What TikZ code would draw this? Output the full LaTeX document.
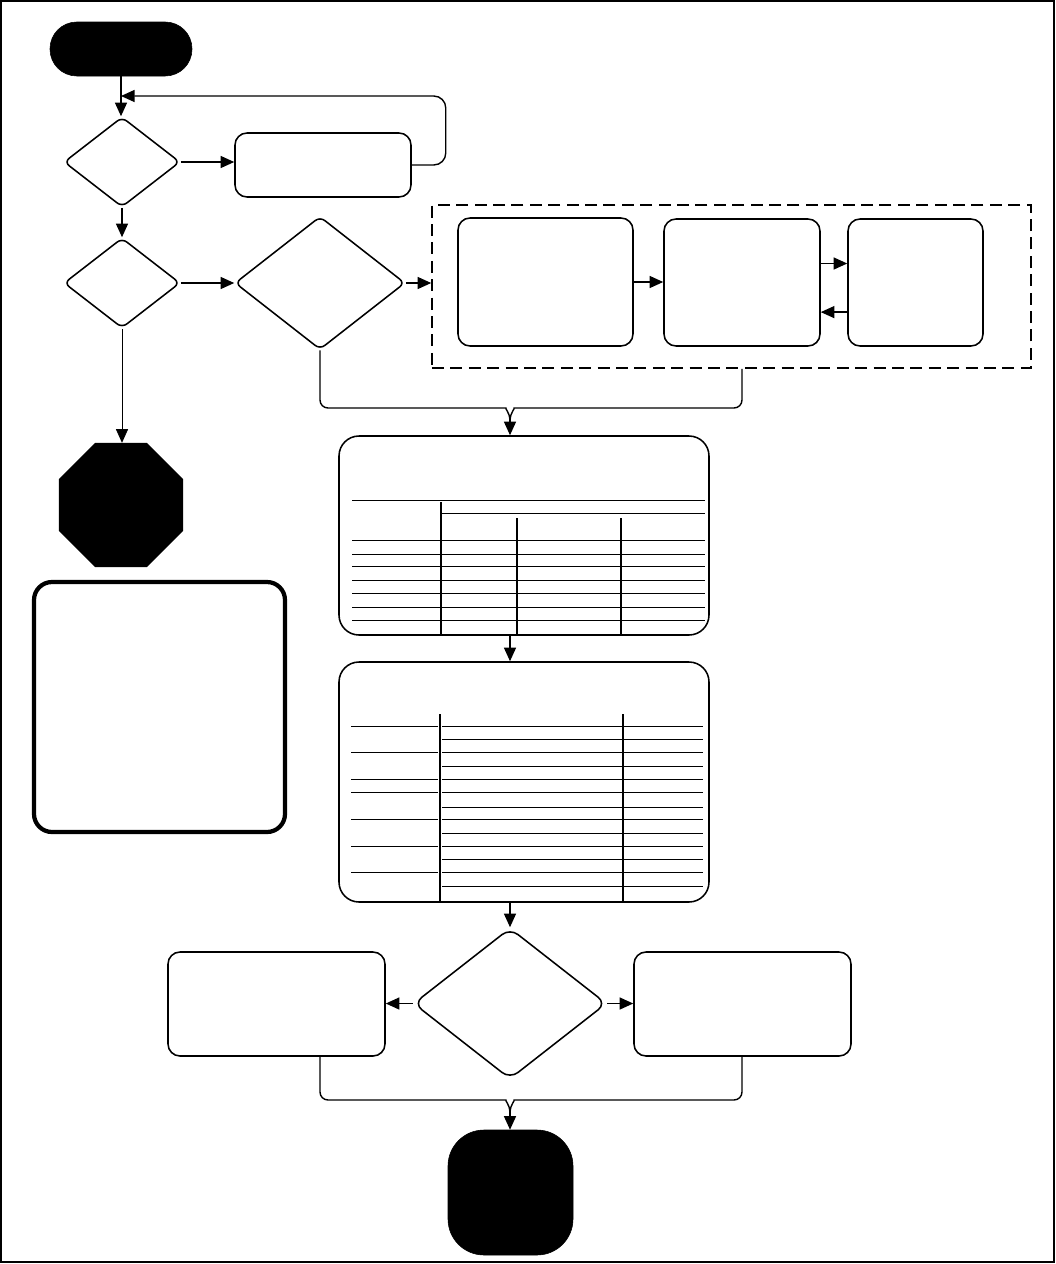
\documentclass[tikz,border=0pt]{standalone}
\usepackage{amsmath}
\usepackage{tikz}
\usetikzlibrary{arrows.meta,positioning,shapes.geometric}
\tikzset{
  box/.style={draw, line width=1.1pt, rounded corners=3mm, inner sep=0pt},
  tblbox/.style={draw, line width=1.1pt, rounded corners=5mm, inner sep=0pt},
  decision/.style={draw, diamond, line width=1.1pt, rounded corners=1.5mm, inner sep=0pt},
  terminal/.style={draw, fill=black, inner sep=0pt},
  flow/.style={-{Triangle[length=3.4mm, width=3mm]}, line width=1pt},
  link/.style={line width=1pt},
  hrule/.style={line width=0.6pt},
  vrule/.style={line width=1.1pt}
}

\begin{document}
\begin{tikzpicture}[x=0.25mm, y=-0.25mm]
\useasboundingbox (0,0) rectangle (1056,1264);
\draw[line width=1.3pt] (1,1) rectangle (1054,1262);

% top of the flow
\node[terminal, rounded corners=6.7mm, minimum width=35.5mm, minimum height=13.5mm] (start) at (121,49) {};
\node[decision, minimum width=29mm, minimum height=22.5mm] (q1) at (122,162) {};
\node[box, minimum width=44mm, minimum height=16mm] (retry) at (323,165) {};
\node[decision, minimum width=29mm, minimum height=22.5mm] (q2) at (122,283) {};
\node[decision, minimum width=42.5mm, minimum height=33.25mm] (q3) at (320,283) {};
\coordinate (back) at (121,96);

% dashed group
\node[draw, line width=1.1pt, dash pattern=on 3mm off 1.6mm, minimum width=149.75mm, minimum height=40.75mm] (grp) at (731.5,286.5) {};
\node[box, minimum width=43.75mm, minimum height=32mm] (stepa) at (545.5,282) {};
\node[box, minimum width=39mm, minimum height=31.75mm] (stepb) at (742,282.5) {};
\node[box, minimum width=33.75mm, minimum height=31.75mm] (stepc) at (915.5,282.5) {};

% left column
\node[terminal, regular polygon, regular polygon sides=8, minimum size=33.5mm] (stop) at (121,505) {};
\node[draw, line width=3pt, rounded corners=4.5mm, minimum width=62.75mm, minimum height=62.5mm] (legend) at (159.5,707) {};

% tables
\coordinate (m1) at (510,420);
\node[tblbox, minimum width=92.5mm, minimum height=49.75mm] (tab1) at (524,535.5) {};
\node[tblbox, minimum width=92.5mm, minimum height=60mm] (tab2) at (524,782) {};

% bottom
\node[decision, rounded corners=2.5mm, minimum width=48.25mm, minimum height=37.75mm] (q4) at (510,1003.5) {};
\node[box, minimum width=54.25mm, minimum height=26mm] (left) at (276.5,1004) {};
\node[box, minimum width=54.25mm, minimum height=26mm] (right) at (742.5,1004) {};
\coordinate (m2) at (510,1112);
\node[terminal, rounded corners=9mm, minimum width=31.25mm, minimum height=31.25mm] (finish) at (510.5,1192.5) {};

% connectors
\draw[flow] (start) -- (q1.north -| start);
\draw[flow] (q1.east) -- (q1.east -| retry.west);
\draw[flow, rounded corners=3mm] (retry.east) -- ++(34,0) |- (back);
\draw[flow] (q1) -- (q2);
\draw[flow] (q2) -- (q3);
\draw[flow] (q3.east) -- (q3.east -| grp.west);
\draw[flow] (stepa.east) -- (stepa.east -| stepb.west);
\draw[flow] ([yshift=4.75mm]stepb.east) -- ([yshift=4.75mm]stepc.west);
\draw[flow] ([yshift=-7.4mm]stepc.west) -- ([yshift=-7.4mm]stepb.east);
\draw[flow, line width=0.6pt] (q2.south) -- (q2.south |- stop.north);

\draw[link, rounded corners=2mm] (q3.south) |- (498,408) to[out=0, in=90] (m1);
\draw[link, rounded corners=2mm] (stepb |- grp.south) |- (522,408) to[out=180, in=90] (m1);
\draw[flow] (m1) -- (m1 |- tab1.north);
\draw[flow] (m1 |- tab1.south) -- (m1 |- tab2.north);
\draw[flow] (m1 |- tab2.south) -- (q4);

\draw[flow] (q4.west) -- (q4.west -| left.east);
\draw[flow] (q4.east) -- (q4.east -| right.west);
\draw[link, rounded corners=2mm] (left.south -| q3) |- (498,1100) to[out=0, in=90] (m2);
\draw[link, rounded corners=2mm] (right.south -| stepb) |- (522,1100) to[out=180, in=90] (m2);
\draw[flow] (m2) -- (m2 |- finish.north);

% table 1 rules
\draw[hrule] (352,500) -- (705,500);
\draw[hrule] (442,513) -- (705,513);
\draw[vrule] (441,502) -- (441,635);
\draw[vrule] (517,518) -- (517,635);
\draw[vrule] (621,518) -- (621,635);
\foreach \y in {540,554,566,580,593,607,620}
  \draw[hrule] (352,\y) -- (705,\y);

% table 2 rules
\draw[vrule] (440,714) -- (440,902);
\draw[vrule] (623,714) -- (623,902);
\foreach \y in {726,752,779,792,819,846,872}
  \draw[hrule] (351,\y) -- (438,\y);
\foreach \y in {726,739,752,766,779,792,807,819,833,846,859,872,886}
  \draw[hrule] (442,\y) -- (703,\y);
\end{tikzpicture}
\end{document}
